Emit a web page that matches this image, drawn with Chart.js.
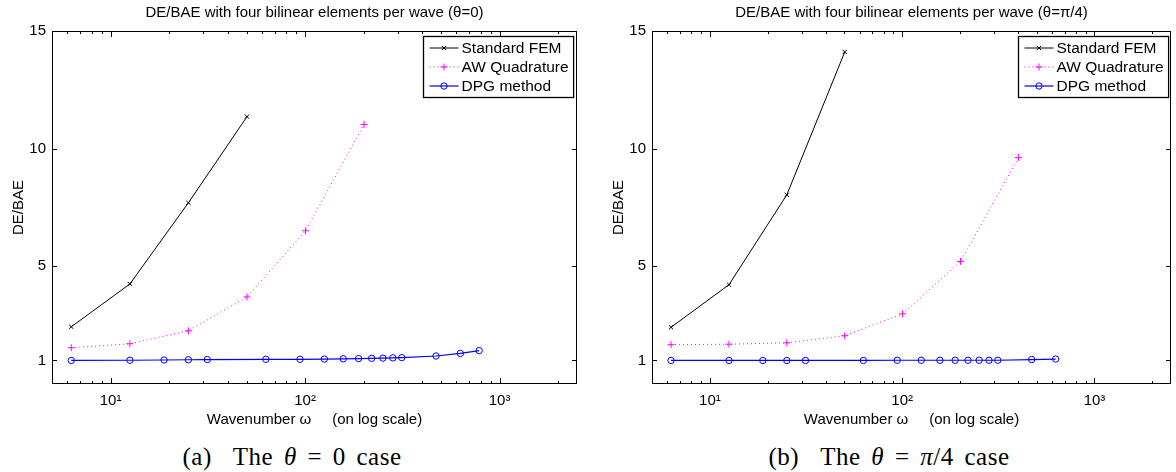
<!DOCTYPE html>
<html>
<head>
<meta charset="utf-8">
<script src="https://cdn.jsdelivr.net/npm/chart.js@4.4.0/dist/chart.umd.min.js"></script>
<style>
  body { margin: 0; background: #fff; width: 1176px; height: 472px; overflow: hidden; position: relative; }
  .panel { position: absolute; top: 0; height: 430px; }
  #panelA { left: 0; width: 590px; }
  #panelB { left: 600px; width: 576px; }
  .caption { position: absolute; top: 443px; font-family: "Liberation Serif", "Times New Roman", serif; font-size: 25px; line-height: 28px; letter-spacing: 0.5px; word-spacing: 4px; white-space: nowrap; transform: translateX(-50%); color: #000; }
</style>
</head>
<body>
<div class="panel" id="panelA"><canvas id="chartA"></canvas></div>
<div class="panel" id="panelB"><canvas id="chartB"></canvas></div>
<div class="caption" style="left:292px">(a)&nbsp; The <i>θ</i> = 0 case</div>
<div class="caption" style="left:889px">(b)&nbsp; The <i>θ</i> = <i>π</i>/4 case</div>
<script>
// wavenumbers (omega) used in the runs
const omegaFem = [6.28, 12.57, 25.13, 50.27];
const omegaAwA = [6.28, 12.57, 25.13, 50.27, 100.53, 201.06];
const omegaAwB = [6.28, 12.57, 25.13, 50.27, 100.53, 201.06, 402.12];
const omegaDpgA = [6.28, 12.57, 18.85, 25.13, 31.42, 62.83, 94.25, 125.66, 157.08, 188.5, 219.91, 251.33, 282.74, 314.16, 471.24, 628.32, 785.4];
const omegaDpgB = [6.28, 12.57, 18.85, 25.13, 31.42, 62.83, 94.25, 125.66, 157.08, 188.5, 219.91, 251.33, 282.74, 314.16, 471.24, 628.32];

// DE/BAE, theta = 0
const femA = [2.43, 4.25, 7.70, 11.36];
const awA = [1.54, 1.71, 2.26, 3.70, 6.51, 11.03];
const dpgA = [1.00, 1.01, 1.02, 1.03, 1.04, 1.05, 1.05, 1.06, 1.07, 1.08, 1.09, 1.10, 1.11, 1.12, 1.19, 1.30, 1.42];

// DE/BAE, theta = pi/4
const femB = [2.41, 4.22, 8.04, 14.11];
const awB = [1.67, 1.69, 1.75, 2.05, 2.98, 5.21, 9.62];
const dpgB = [1.00, 1.00, 1.00, 1.00, 1.00, 1.00, 1.01, 1.01, 1.01, 1.01, 1.01, 1.01, 1.01, 1.01, 1.04, 1.06];

// axis ticks
const yTicks = [1, 5, 10, 15];
const xDecades = [10, 100, 1000];
const xDecadeLabels = ['10¹', '10²', '10³'];
const xMinorTicks = [6, 7, 8, 9, 20, 30, 40, 50, 60, 70, 80, 90, 200, 300, 400, 500, 600, 700, 800, 900, 2000];

const FONT = '"Liberation Sans", Arial, sans-serif';

function pts(xs, ys) {
    return xs.map((x, i) => ({ x: x, y: ys[i] }));
}

// MATLAB-like box, inward ticks, title and boxed legend
const matlabPlugin = {
    id: 'matlabBox',
    afterDatasetsDraw(chart, args, opts) {
        const ctx = chart.ctx;
        const ca = chart.chartArea;
        const xs = chart.scales.x;
        const ys = chart.scales.y;
        ctx.save();
        ctx.strokeStyle = '#000';
        ctx.lineWidth = 1;
        ctx.setLineDash([]);
        ctx.strokeRect(Math.round(ca.left) + 0.5, Math.round(ca.top) + 0.5, Math.round(ca.right - ca.left) - 1, Math.round(ca.bottom - ca.top) - 1);

        ctx.beginPath();
        xs.ticks.forEach(t => {
            const px = Math.round(xs.getPixelForValue(t.value)) + 0.5;
            const len = t.major ? 6 : 3;
            ctx.moveTo(px, ca.bottom);
            ctx.lineTo(px, ca.bottom - len);
            ctx.moveTo(px, ca.top);
            ctx.lineTo(px, ca.top + len);
        });
        ys.ticks.forEach(t => {
            const py = Math.round(ys.getPixelForValue(t.value)) + 0.5;
            ctx.moveTo(ca.left, py);
            ctx.lineTo(ca.left + 5, py);
            ctx.moveTo(ca.right, py);
            ctx.lineTo(ca.right - 5, py);
        });
        ctx.stroke();

        // title
        ctx.fillStyle = '#000';
        ctx.font = '15px ' + FONT;
        ctx.textAlign = 'center';
        ctx.textBaseline = 'middle';
        ctx.fillText(opts.text, (ca.left + ca.right) / 2, 13);

        // legend
        ctx.font = '15.5px ' + FONT;
        const labels = chart.data.datasets.map(d => d.label);
        const textW = Math.max(...labels.map(l => ctx.measureText(l).width));
        const boxW = 38 + textW + 5;
        const boxH = 61;
        const bx = Math.round(ca.right - opts.legendMargin - boxW) + 0.5;
        const by = Math.round(ca.top + 5) + 0.5;
        ctx.fillStyle = '#fff';
        ctx.fillRect(bx, by, boxW, boxH);
        ctx.strokeStyle = '#000';
        ctx.lineWidth = 1.3;
        ctx.strokeRect(bx, by, boxW, boxH);
        ctx.textAlign = 'left';
        chart.data.datasets.forEach((d, i) => {
            const ry = by + 11.5 + i * 19;
            ctx.strokeStyle = d.borderColor;
            ctx.lineWidth = d.borderWidth;
            ctx.setLineDash(d.borderDash || []);
            ctx.beginPath();
            ctx.moveTo(bx + 6, ry);
            ctx.lineTo(bx + 35, ry);
            ctx.stroke();
            ctx.setLineDash([]);
            ctx.lineWidth = 1;
            ctx.fillStyle = d.backgroundColor;
            Chart.helpers.drawPoint(ctx, { pointStyle: d.pointStyle, radius: d.pointRadius, rotation: 0, borderWidth: 1 }, bx + 20.5, ry);
            ctx.fillStyle = '#000';
            ctx.fillText(d.label, bx + 38, ry + 1);
        });
        ctx.restore();
    }
};

function makeChart(canvasId, titleText, awX, femY, awY, dpgX, dpgY, padRight, legendMargin) {
    return new Chart(document.getElementById(canvasId), {
        type: 'line',
        data: {
            datasets: [
                {
                    label: 'Standard FEM',
                    data: pts(omegaFem, femY),
                    borderColor: '#000000',
                    backgroundColor: '#000000',
                    borderWidth: 1,
                    pointStyle: 'crossRot',
                    pointRadius: 3,
                    pointBorderWidth: 1
                },
                {
                    label: 'AW Quadrature',
                    data: pts(awX, awY),
                    borderColor: '#ff00ff',
                    backgroundColor: '#ff00ff',
                    borderWidth: 1,
                    borderDash: [1, 3],
                    pointStyle: 'cross',
                    pointRadius: 3.5,
                    pointBorderWidth: 1
                },
                {
                    label: 'DPG method',
                    data: pts(dpgX, dpgY),
                    borderColor: '#0000ff',
                    backgroundColor: 'rgba(0,0,0,0)',
                    borderWidth: 1.2,
                    pointStyle: 'circle',
                    pointRadius: 3.2,
                    pointBorderWidth: 1
                }
            ]
        },
        options: {
            responsive: true,
            maintainAspectRatio: false,
            animation: false,
            events: [],
            layout: { padding: { top: 31, right: padRight, left: 0, bottom: 0 } },
            plugins: {
                legend: { display: false },
                tooltip: { enabled: false },
                matlabBox: { text: titleText, legendMargin: legendMargin }
            },
            scales: {
                x: {
                    type: 'logarithmic',
                    min: 5,
                    max: 2500,
                    afterBuildTicks: s => {
                        s.ticks = xDecades.concat(xMinorTicks).sort((a, b) => a - b)
                            .map(v => ({ value: v, major: xDecades.includes(v) }));
                    },
                    afterFit: s => { s.height = 46; },
                    grid: { display: false, drawTicks: false },
                    border: { display: false },
                    ticks: {
                        autoSkip: false,
                        maxRotation: 0,
                        padding: 8,
                        color: '#000',
                        font: { family: FONT, size: 15 },
                        callback: v => {
                            const i = xDecades.indexOf(v);
                            return i >= 0 ? xDecadeLabels[i] : '';
                        }
                    },
                    title: {
                        display: true,
                        text: 'Wavenumber ω     (on log scale)',
                        color: '#000',
                        font: { family: FONT, size: 15 },
                        padding: { top: 0, bottom: 1 }
                    }
                },
                y: {
                    min: 0,
                    max: 15,
                    afterBuildTicks: s => { s.ticks = yTicks.map(v => ({ value: v })); },
                    afterFit: s => { s.width = 52; },
                    grid: { display: false, drawTicks: false },
                    border: { display: false },
                    ticks: {
                        padding: 6,
                        color: '#000',
                        font: { family: FONT, size: 15 }
                    },
                    title: {
                        display: true,
                        text: 'DE/BAE',
                        color: '#000',
                        font: { family: FONT, size: 15 },
                        padding: { top: 10, bottom: 0 }
                    }
                }
            }
        },
        plugins: [matlabPlugin]
    });
}

makeChart('chartA', 'DE/BAE with four bilinear elements per wave (θ=0)', omegaAwA, femA, awA, omegaDpgA, dpgA, 13, 4);
makeChart('chartB', 'DE/BAE with four bilinear elements per wave (θ=π/4)', omegaAwB, femB, awB, omegaDpgB, dpgB, 0, 3);
</script>
</body>
</html>
